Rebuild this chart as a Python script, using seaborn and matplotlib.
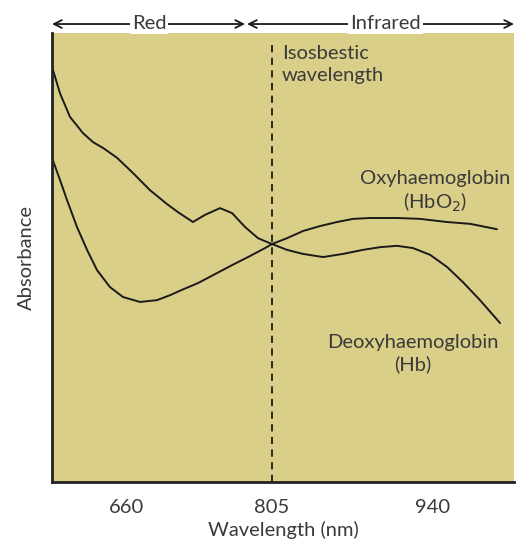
import matplotlib
matplotlib.use("Agg")
import matplotlib.pyplot as plt
import seaborn as sns
import numpy as np
import pandas as pd

# absorbance spectra (arbitrary units 0-100)
hb_nm = [586.5, 594.4, 604.4, 617.3, 627.2, 637.2, 651.1, 667.0, 683.8, 700.7,
         711.6, 726.5, 738.5, 753.4, 765.3, 778.2, 791.1, 805.0, 817.6, 831.0,
         847.8, 864.6, 881.3, 895.6, 909.9, 923.3, 937.6, 951.8, 965.2, 979.5,
         996.3]
hb_abs = [92.5, 86.6, 81.3, 77.7, 75.7, 74.4, 72.2, 68.8, 65.0, 61.9,
          60.1, 57.9, 59.5, 61.0, 59.9, 56.8, 54.3, 53.0, 51.7, 50.8,
          50.1, 50.8, 51.7, 52.3, 52.6, 52.1, 50.6, 47.9, 44.5, 40.5,
          35.4]

hbo2_nm = [586.5, 594.4, 601.4, 611.3, 621.3, 631.2, 644.1, 657.0, 673.9, 690.8,
           703.7, 715.6, 731.5, 748.4, 765.3, 781.2, 798.1, 805.0, 817.6, 831.0,
           845.3, 859.5, 873.0, 887.2, 909.9, 929.2, 951.8, 971.1, 993.7]
hbo2_abs = [72.2, 67.3, 62.8, 56.8, 51.7, 47.2, 43.4, 41.2, 40.1, 40.5,
            41.6, 42.8, 44.3, 46.3, 48.3, 50.1, 52.1, 53.0, 54.3, 55.9,
            57.0, 57.9, 58.6, 58.8, 58.8, 58.6, 57.9, 57.5, 56.3]

tick_nm = [660, 805, 940]
isosbestic = 805

# the drawing is not to scale: the infrared half is stretched
scale_nm = [500, 586.5, 805, 1008, 1100]
scale_pos = [-35.1, 52, 272, 514, 623.7]


def fwd(x):
    return np.interp(x, scale_nm, scale_pos)


def inv(x):
    return np.interp(x, scale_pos, scale_nm)


df = pd.concat([
    pd.DataFrame({'nm': hb_nm, 'abs': hb_abs, 'species': 'Hb'}),
    pd.DataFrame({'nm': hbo2_nm, 'abs': hbo2_abs, 'species': 'HbO2'}),
])

sns.set_style('white')
plt.rcParams['font.family'] = ['Lato', 'DejaVu Sans']
text_col = '#3a3a3a'
bg = '#DACF89'
fs = 14.5

fig = plt.figure(figsize=(5.16, 5.45), dpi=100)
ax = fig.add_axes([52 / 516, 63 / 545, 462 / 516, 449 / 545])
ax.set_facecolor(bg)

ax.set_xscale('function', functions=(fwd, inv))
sns.lineplot(data=df, x='nm', y='abs', hue='species', palette=['#1a1a1a', '#1a1a1a'],
             estimator=None, sort=False, lw=1.4, legend=False, ax=ax,
             solid_joinstyle='round', solid_capstyle='round')

ax.axvline(isosbestic, ymin=0, ymax=0.98, color='#1a1a1a', lw=1.3, ls=(0, (4, 3)))

ax.set_xlim(586.5, 1008)
ax.set_ylim(0, 100)
ax.set_xticks(tick_nm)
ax.set_xticklabels([str(t) for t in tick_nm])
ax.set_yticks([])
ax.tick_params(axis='x', direction='out', length=6, width=1.3, colors='#222222',
               labelcolor=text_col, labelsize=fs, pad=6)
for s in ['top', 'right']:
    ax.spines[s].set_visible(False)
for s in ['left', 'bottom']:
    ax.spines[s].set_color('#222222')
    ax.spines[s].set_linewidth(2)

ax.set_xlabel('Wavelength (nm)', fontsize=fs, color=text_col, labelpad=4)
ax.set_ylabel('Absorbance', fontsize=fs, color=text_col, labelpad=12)

# band arrows on top
tr = ('data', 'axes fraction')
for lo, hi, lab, mid in [(586.5, 778.2, 'Red', 683), (780.2, 1008, 'Infrared', 900)]:
    ax.annotate('', xy=(lo, 1.02), xytext=(hi, 1.02), xycoords=tr, textcoords=tr,
                arrowprops=dict(arrowstyle='<->', color='#1a1a1a', lw=1.3,
                                shrinkA=0, shrinkB=0, mutation_scale=14),
                annotation_clip=False)
    ax.text(mid, 1.022, lab, transform=ax.get_xaxis_transform(), ha='center', va='center',
            fontsize=fs, color=text_col,
            bbox=dict(facecolor='white', edgecolor='none', pad=1.5))

ax.text(813.4, 97.4, 'Isosbestic\nwavelength', ha='left', va='top', fontsize=fs,
        color=text_col, linespacing=1.4)
ax.text(941.7, 64.6, 'Oxyhaemoglobin\n(HbO$_2$)', ha='center', va='center',
        fontsize=fs, color=text_col, linespacing=1.25)
ax.text(923.2, 28.6, 'Deoxyhaemoglobin\n(Hb)', ha='center', va='center',
        fontsize=fs, color=text_col, linespacing=1.25)

fig.savefig('out.png', dpi=100)
